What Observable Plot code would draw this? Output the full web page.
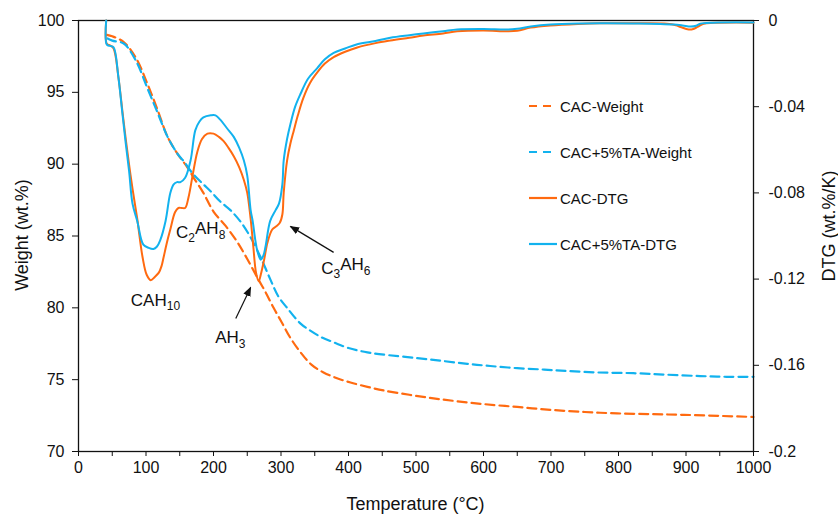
<!DOCTYPE html>
<html>
<head>
<meta charset="utf-8">
<script src="https://cdn.jsdelivr.net/npm/d3@7"></script>
<script src="https://cdn.jsdelivr.net/npm/@observablehq/plot@0.6"></script>
<style>
  body { margin: 0; background: #fff; }
  #chart { position: relative; width: 838px; height: 516px; background: #fff; }
  #chart > svg { position: absolute; left: 0; top: 0; }
</style>
</head>
<body>
<div id="chart"></div>
<script>
// ---------- data ----------
const cacWeightT = [42, 50, 67, 85, 102, 117, 132, 147, 161, 170, 185, 200, 218, 235, 250, 265, 277, 289, 301, 314, 329, 345, 363, 383, 403, 428, 452, 490, 526, 560, 600, 650, 699, 750, 798, 850, 897, 950, 1000];
const cacWeight  = [99.0, 98.9, 98.5, 97.4, 95.6, 93.8, 91.9, 90.7, 89.8, 89.1, 88.0, 86.7, 85.7, 84.6, 83.4, 82.1, 81.1, 80.0, 79.0, 77.9, 76.9, 76.05, 75.5, 75.1, 74.8, 74.5, 74.25, 73.95, 73.7, 73.5, 73.3, 73.1, 72.9, 72.75, 72.65, 72.6, 72.55, 72.48, 72.4];

const taWeightT = [43, 50, 67, 85, 102, 117, 132, 147, 156, 170, 185, 196, 210, 225, 240, 255, 270, 284, 296, 309, 329, 344, 360, 378, 400, 428, 460, 502, 540, 576, 610, 650, 690, 724, 770, 822, 870, 921, 960, 1000];
const taWeight  = [98.75, 98.6, 98.4, 97.2, 95.3, 93.6, 91.9, 90.7, 90.2, 89.3, 88.6, 88.1, 87.4, 86.8, 86.0, 84.9, 83.5, 82.0, 80.8, 80.0, 78.9, 78.4, 77.95, 77.6, 77.2, 76.9, 76.7, 76.5, 76.3, 76.1, 75.95, 75.8, 75.7, 75.6, 75.5, 75.45, 75.35, 75.25, 75.2, 75.2];

const cacDtgT = [41, 42, 47, 52, 59, 65, 70, 75, 80, 87, 95, 101, 107, 113, 119, 123, 126, 131, 136, 143, 148, 153, 158, 163, 169, 176, 183, 191, 200, 208, 215, 222, 230, 238, 245, 250, 255, 259, 263, 267, 270, 275, 280, 287, 293, 298, 302, 304, 309, 314, 319, 325, 333, 343, 354, 365, 378, 395, 413, 440, 462, 490, 511, 540, 561, 600, 635, 650, 670, 699, 740, 773, 830, 872, 885, 892, 904, 912, 917, 926, 941, 1000];
const cacDtg  = [0, -0.0108, -0.0116, -0.013, -0.026, -0.042, -0.055, -0.067, -0.078, -0.092, -0.110, -0.118, -0.1205, -0.119, -0.117, -0.114, -0.110, -0.103, -0.097, -0.089, -0.087, -0.087, -0.087, -0.082, -0.072, -0.061, -0.055, -0.0525, -0.0525, -0.054, -0.056, -0.059, -0.063, -0.068, -0.074, -0.080, -0.092, -0.105, -0.117, -0.121, -0.118, -0.111, -0.103, -0.097, -0.0955, -0.094, -0.090, -0.080, -0.065, -0.057, -0.051, -0.044, -0.036, -0.029, -0.024, -0.020, -0.017, -0.0145, -0.0125, -0.0105, -0.0093, -0.008, -0.007, -0.006, -0.005, -0.0046, -0.005, -0.0048, -0.0033, -0.0023, -0.0016, -0.0013, -0.0013, -0.0015, -0.0022, -0.003, -0.0042, -0.0038, -0.003, -0.0015, -0.0011, -0.001];

const taDtgT = [41, 42, 47, 52, 59, 65, 70, 75, 80, 87, 96, 104, 111, 116, 121, 129, 136, 141, 146, 151, 158, 166, 173, 179, 185, 196, 203, 210, 220, 230, 238, 245, 250, 255, 258, 262, 265, 270, 274, 277, 284, 292, 297, 302, 304, 309, 314, 321, 329, 340, 354, 365, 378, 395, 413, 440, 462, 490, 511, 540, 561, 600, 635, 650, 670, 699, 740, 773, 830, 882, 895, 907, 915, 921, 941, 1000];
const taDtg  = [0, -0.0112, -0.0118, -0.0125, -0.026, -0.043, -0.057, -0.070, -0.085, -0.093, -0.104, -0.1055, -0.106, -0.105, -0.102, -0.093, -0.080, -0.076, -0.075, -0.075, -0.073, -0.065, -0.051, -0.047, -0.045, -0.044, -0.044, -0.046, -0.050, -0.054, -0.059, -0.065, -0.072, -0.088, -0.093, -0.102, -0.107, -0.111, -0.109, -0.105, -0.093, -0.088, -0.085, -0.076, -0.065, -0.055, -0.048, -0.040, -0.034, -0.027, -0.022, -0.018, -0.015, -0.013, -0.011, -0.0095, -0.008, -0.0068, -0.006, -0.005, -0.0042, -0.0040, -0.0042, -0.0038, -0.0028, -0.0019, -0.0014, -0.0013, -0.0014, -0.0019, -0.0023, -0.0028, -0.0024, -0.0015, -0.001, -0.0009];

const xTicks = [0, 50, 100, 150, 200, 250, 300, 350, 400, 450, 500, 550, 600, 650, 700, 750, 800, 850, 900, 950, 1000];
const weightTicks = [70, 75, 80, 85, 90, 95, 100];
const dtgTicks = [0, -0.04, -0.08, -0.12, -0.16, -0.2];
const dtgTickLabels = ["0", "-0.04", "-0.08", "-0.12", "-0.16", "-0.2"];

const seriesNames = ["CAC-Weight", "CAC+5%TA-Weight", "CAC-DTG", "CAC+5%TA-DTG"];

// annotations (in temperature / weight units)
const annoLabels = ["CAH_10", "C_2AH_8", "AH_3", "C_3AH_6"];
const annoT = [114, 181, 225, 396];
const annoW = [80.5, 85.25, 77.9, 82.75];
const arrowT1 = [233, 378];
const arrowW1 = [79.26, 83.86];
const arrowT2 = [255, 314];
const arrowW2 = [81.42, 85.67];

// ---------- styling ----------
const ORANGE = "#FF6A10";
const BLUE = "#12B2EE";
const FONT = '"Liberation Sans", Arial, Helvetica, sans-serif';
const W = 838, H = 516;
const margins = {marginLeft: 78, marginRight: 85, marginTop: 20, marginBottom: 65};
const baseStyle = {fontFamily: FONT, fontSize: "16px", color: "#111", background: "transparent", overflow: "visible"};

const weightPlot = Plot.plot({
  width: W, height: H, ...margins,
  style: baseStyle,
  x: {domain: [0, 1000]},
  y: {domain: [70, 100]},
  marks: [
    Plot.axisX({ticks: xTicks, tickFormat: d => (d % 100 === 0 ? String(d) : ""), tickSize: 5, tickPadding: 5, label: null, stroke: "#111"}),
    Plot.axisY({ticks: weightTicks, tickFormat: d => String(d), tickSize: 6, tickPadding: 8, label: null, stroke: "#111"}),
    Plot.line(cacWeightT, {x: cacWeightT, y: cacWeight, stroke: ORANGE, strokeWidth: 2.2, strokeDasharray: "9,5", curve: "catmull-rom"}),
    Plot.line(taWeightT, {x: taWeightT, y: taWeight, stroke: BLUE, strokeWidth: 2.2, strokeDasharray: "9,5", curve: "catmull-rom"}),
    Plot.frame({stroke: "#111", strokeWidth: 1.3}),
    Plot.text(annoLabels, {x: annoT, y: annoW, text: d => d, fontSize: 17, fill: "#111", className: "anno"}),
    Plot.link(arrowT1, {x1: arrowT1, y1: arrowW1, x2: arrowT2, y2: arrowW2, stroke: "#111", strokeWidth: 1.2, className: "annoArrow"})
  ]
});

const dtgPlot = Plot.plot({
  width: W, height: H, ...margins,
  style: baseStyle,
  x: {domain: [0, 1000], axis: null},
  y: {domain: [-0.2, 0]},
  marks: [
    Plot.axisY({anchor: "right", ticks: dtgTicks, tickFormat: d => dtgTickLabels[dtgTicks.indexOf(d)], tickSize: 5, tickPadding: 10, label: null, stroke: "#111"}),
    Plot.line(cacDtgT, {x: cacDtgT, y: cacDtg, stroke: ORANGE, strokeWidth: 2, curve: "catmull-rom"}),
    Plot.line(taDtgT, {x: taDtgT, y: taDtg, stroke: BLUE, strokeWidth: 2, curve: "catmull-rom"})
  ]
});

const chart = document.getElementById("chart");
chart.appendChild(weightPlot);
chart.appendChild(dtgPlot);

// subscripts in annotation labels
d3.select(weightPlot).selectAll(".anno text").each(function() {
  const raw = this.textContent;
  const sel = d3.select(this);
  sel.text(null);
  const parts = raw.split(/_(\d+)/);
  let sub = false;
  parts.forEach((p, i) => {
    if (!p) { return; }
    const isSub = i % 2 === 1;
    const ts = sel.append("tspan").text(p);
    if (isSub && !sub) { ts.attr("font-size", 12).attr("dy", "0.35em"); sub = true; }
    else if (!isSub && sub) { ts.attr("dy", "-0.45em"); sub = false; }
  });
});

// filled arrow heads
const svgA = d3.select(weightPlot);
svgA.append("defs").append("marker")
  .attr("id", "ahead").attr("viewBox", "0 0 10 10").attr("refX", 9).attr("refY", 5)
  .attr("markerWidth", 8).attr("markerHeight", 8).attr("orient", "auto")
  .append("path").attr("d", "M0,1L10,5L0,9Z").attr("fill", "#111");
svgA.selectAll(".annoArrow path, .annoArrow line").attr("marker-end", "url(#ahead)");

// axis titles
const titles = svgA.append("g").attr("font-family", FONT).attr("font-size", 18).attr("fill", "#111").attr("text-anchor", "middle");
titles.append("text").attr("x", 415.5).attr("y", 510).text("Temperature (°C)");
titles.append("text").attr("transform", "translate(28,235) rotate(-90)").text("Weight (wt.%)");
titles.append("text").attr("transform", "translate(835,226) rotate(-90)").text("DTG (wt.%/K)");

// legend
const svgB = d3.select(dtgPlot);
const legendItems = [
  {name: seriesNames[0], color: ORANGE, dash: "8,6"},
  {name: seriesNames[1], color: BLUE, dash: "8,6"},
  {name: seriesNames[2], color: ORANGE, dash: null},
  {name: seriesNames[3], color: BLUE, dash: null}
];
const lg = svgB.append("g").attr("font-family", FONT).attr("font-size", 15).attr("fill", "#111").attr("text-anchor", "start");
legendItems.forEach((it, i) => {
  const cy = 106 + i * 46;
  const ln = lg.append("line").attr("x1", 529).attr("x2", it.dash ? 553 : 557).attr("y1", cy).attr("y2", cy)
    .attr("stroke", it.color).attr("stroke-width", 2.2);
  if (it.dash) ln.attr("stroke-dasharray", it.dash);
  lg.append("text").attr("x", 560).attr("y", cy + 5.5).text(it.name);
});
</script>
</body>
</html>
